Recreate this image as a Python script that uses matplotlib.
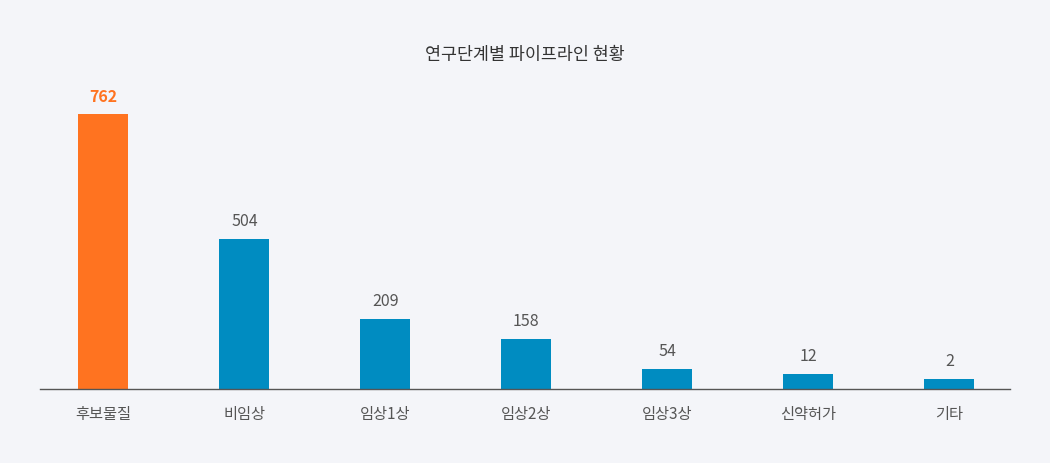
import matplotlib

matplotlib.use("Agg")
import matplotlib.pyplot as plt  # noqa: E402
import numpy as np  # noqa: E402

plt.rcParams["font.family"] = ["Noto Sans CJK KR", "DejaVu Sans"]

# data
stages = ["후보물질", "비임상", "임상1상", "임상2상", "임상3상", "신약허가", "기타"]
counts = [762, 504, 209, 158, 54, 12, 2]
highlight = [True, False, False, False, False, False, False]

# the original chart uses a non-linear value axis; approximate it piecewise
scale_values = [0, 2, 12, 54, 158, 209, 504, 762, 1000]
scale_heights = [0, 10, 15, 20, 50, 70, 150, 275, 400]

BG = "#F4F5F9"
ORANGE = "#FF7320"
BLUE = "#008CC1"
TEXT = "#555555"


def forward(v):
    return np.interp(v, scale_values, scale_heights)


def inverse(h):
    return np.interp(h, scale_heights, scale_values)


fig = plt.figure(figsize=(10.5, 4.63), dpi=100, facecolor=BG)
ax = fig.add_axes([40 / 1050, 1 - 389 / 463, 970 / 1050, 320 / 463])
ax.set_facecolor(BG)
ax.set_yscale("function", functions=(forward, inverse))

xs = np.arange(len(stages))
colors = [ORANGE if h else BLUE for h in highlight]
ax.bar(xs, counts, width=0.355, color=colors, zorder=2)

for x, v, h in zip(xs, counts, highlight):
    ax.annotate(
        f"{v}",
        xy=(x, v),
        xytext=(0, 6.5),
        textcoords="offset points",
        ha="center",
        va="bottom",
        fontsize=11.5,
        color=ORANGE if h else TEXT,
        fontweight="bold" if h else "normal",
    )

ax.set_xlim(-0.45, 6.43)
ax.set_ylim(0, inverse(320))
ax.set_xticks(xs)
ax.set_xticklabels(stages, fontsize=11, color=TEXT)
ax.tick_params(axis="x", length=0, pad=12)
ax.set_yticks([])
for side in ("top", "right", "left"):
    ax.spines[side].set_visible(False)
ax.spines["bottom"].set_color("#555555")
ax.spines["bottom"].set_linewidth(1)

fig.text(525 / 1050, 1 - 55 / 463, "연구단계별 파이프라인 현황", ha="center", va="center",
         fontsize=12.5, color="#333333")

fig.savefig("out.png", dpi=100, facecolor=BG)
